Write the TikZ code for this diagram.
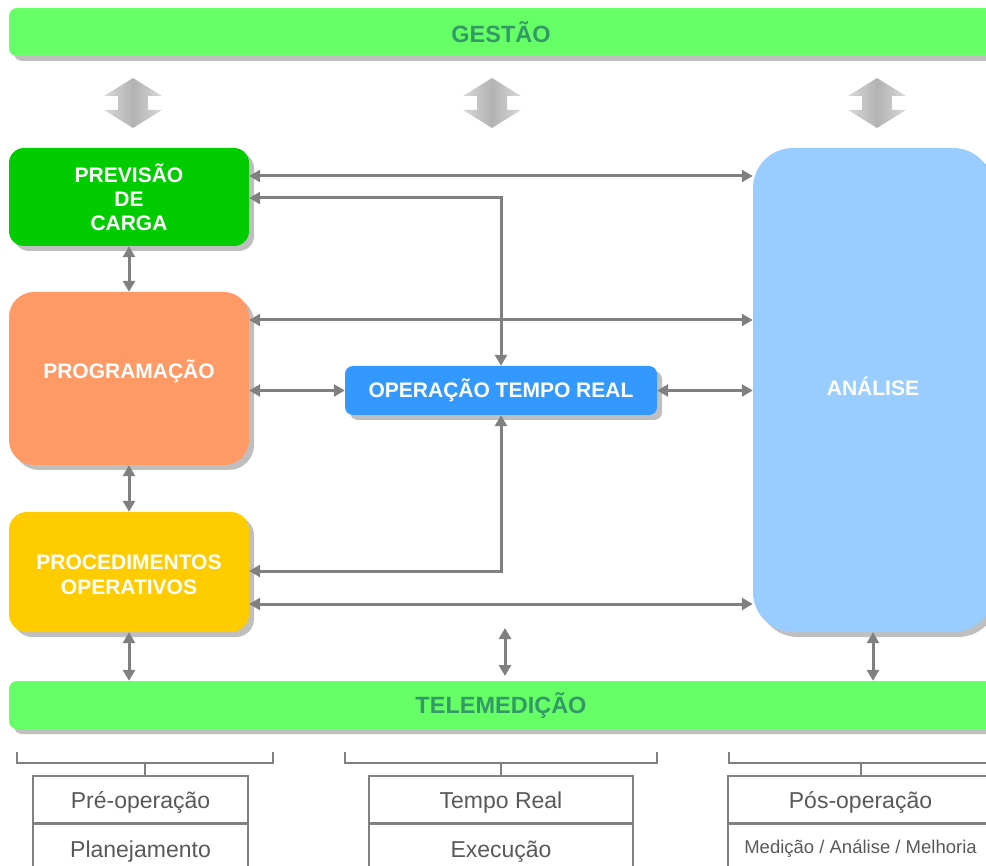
\documentclass[tikz,border=0pt]{standalone}
\usepackage{fontspec}
\setmainfont{Liberation Sans}
\usetikzlibrary{arrows.meta,shadows}
\definecolor{barGreen}{HTML}{66FF66}
\definecolor{barText}{HTML}{339966}
\definecolor{prevGreen}{HTML}{00CC00}
\definecolor{progOrange}{HTML}{FF9966}
\definecolor{procYellow}{HTML}{FFCC00}
\definecolor{operBlue}{HTML}{3399FF}
\definecolor{analBlue}{HTML}{99CCFF}
\definecolor{shadowGray}{HTML}{BFBFBF}
\definecolor{lineGray}{HTML}{808080}
\definecolor{cellText}{HTML}{595959}
\begin{document}
\begin{tikzpicture}[x=1pt,y=-1pt]
\tikzstyle{every node}+=[inner sep=0pt]
\tikzstyle{box}=[text=white, align=center, font=\fontsize{21}{24}\selectfont\bfseries,
  drop shadow={shadow xshift=5pt,shadow yshift=-5pt,fill=shadowGray,opacity=1}]
\tikzstyle{bar}=[box, fill=barGreen, text=barText, rounded corners=8pt,
  minimum width=984pt, minimum height=48pt, font=\fontsize{23.5}{26}\selectfont\bfseries]
\tikzstyle{conn}=[draw=lineGray, line width=3pt,
  arrows={Triangle[length=11pt,width=12pt]-Triangle[length=11pt,width=12pt]}]
\tikzstyle{brk}=[draw=lineGray, line width=1.5pt]
\tikzstyle{cell}=[draw=lineGray, line width=1.5pt, text=cellText, font=\fontsize{23}{26}\selectfont,
  text height=22pt, text depth=5pt]
\useasboundingbox (0,0) rectangle (986,866);
\clip (0,0) rectangle (986,866);
% bars
\node[bar] (gest) at (501,32) {GESTÃO};
\node[bar] (tele) at (501,705) {TELEMEDIÇÃO};
% block arrows under the top bar
\foreach \cx in {133,492,877}
  \shade[left color=gray!30, right color=gray!30, middle color=gray!60]
    (\cx,78) -- ++(29,18) -- ++(-14,0) -- ++(0,14) -- ++(14,0) -- (\cx,128)
    -- ++(-29,-18) -- ++(14,0) -- ++(0,-14) -- ++(-14,0) -- cycle;
% boxes
\node[box, fill=prevGreen, rounded corners=15pt, minimum width=240pt, minimum height=98pt]
  (prev) at (129,197) {PREVISÃO\\DE\\CARGA};
\node[box, fill=progOrange, rounded corners=25pt, minimum width=240pt, minimum height=173pt]
  (prog) at (129,378.5) {\raisebox{0pt}[0pt][0pt]{PROGRAMAÇÃO}};
\node[box, fill=procYellow, rounded corners=18pt, minimum width=240pt, minimum height=120pt,
  font=\fontsize{21}{25}\selectfont\bfseries]
  (proc) at (129,572) {\rule{0pt}{21pt}PROCEDIMENTOS\\OPERATIVOS};
\node[box, fill=operBlue, rounded corners=8pt, minimum width=312pt, minimum height=49pt]
  (oper) at (501,390.5) {OPERAÇÃO TEMPO REAL};
\node[box, fill=analBlue, rounded corners=40pt, minimum width=240pt, minimum height=484pt]
  (anal) at (873,390) {\raisebox{-5.5pt}[0pt][0pt]{ANÁLISE}};
% connectors
\draw[conn] (prev.east |- 0,176) -- (anal.west |- 0,176);
\draw[conn] (prev.east |- 0,198) -| (oper.north);
\draw[conn] (prog.east |- 0,320) -- (anal.west |- 0,320);
\draw[conn] (prog.east |- oper.west) -- (oper.west);
\draw[conn] (oper.east) -- (anal.west |- oper.east);
\draw[conn] (proc.east |- 0,571) -| (oper.south);
\draw[conn] (proc.east |- 0,604) -- (anal.west |- 0,604);
\draw[conn] (prev.south) -- (prog.north);
\draw[conn] (prog.south) -- (proc.north);
\draw[conn] (proc.south) -- (proc.south |- tele.north);
\draw[conn] (anal.south) -- (anal.south |- tele.north);
\coordinate (midtop) at (505,628);
\coordinate (midbot) at (505,676);
\draw[conn] (midtop) -- (midbot);
% phases
\node[cell, minimum width=215pt, minimum height=47pt] (pre) at (140.5,799.5) {Pré-operação};
\node[cell, minimum width=215pt, minimum height=48pt, anchor=north] (plan) at (pre.south) {Planejamento};
\node[cell, minimum width=264pt, minimum height=47pt] (treal) at (501,799.5) {Tempo Real};
\node[cell, minimum width=264pt, minimum height=48pt, anchor=north] (exec) at (treal.south) {Execução};
\node[cell, minimum width=265pt, minimum height=47pt] (pos) at (860.5,799.5) {Pós-operação};
\node[cell, minimum width=265pt, minimum height=48pt, anchor=north, font=\fontsize{18.5}{22}\selectfont,
  text height=14pt, text depth=5pt]
  (mam) at (pos.south) {Medição / Análise / Melhoria};
% brackets
\draw[brk] (17,752) |- (273,763) -- (273,752);
\draw[brk] (145,763) -- (145,0 |- pre.north);
\draw[brk] (345,752) |- (657,763) -- (657,752);
\draw[brk] (501,763) -- (treal.north);
\draw[brk] (729,752) |- (993,763) -- (993,752);
\draw[brk] (861,763) -- (861,0 |- pos.north);
\end{tikzpicture}
\end{document}
